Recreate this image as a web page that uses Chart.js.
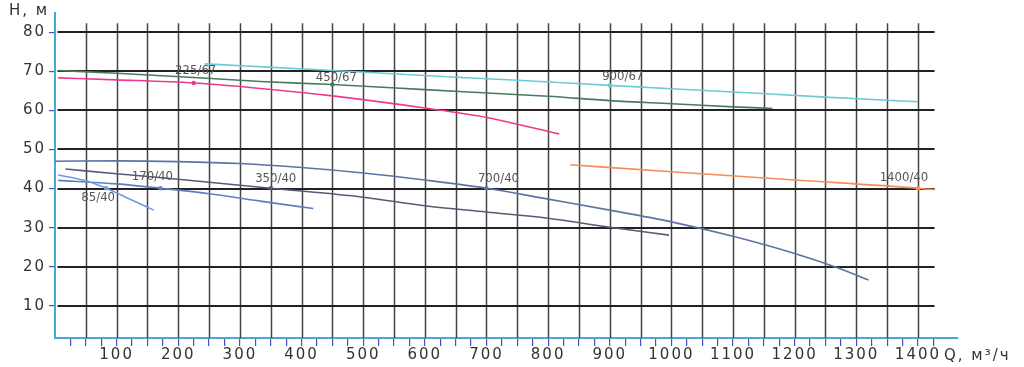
<!DOCTYPE html>
<html lang="ru">
<head>
<meta charset="UTF-8">
<title>Характеристики насосов</title>
<script src="https://cdn.jsdelivr.net/npm/chart.js"></script>
<style>
  html, body { margin: 0; padding: 0; background: #fff; }
  .wrap { position: relative; width: 1024px; height: 367px; }
</style>
</head>
<body>
<div class="wrap"><canvas id="chart"></canvas></div>
<script>
// данные кривых (Q, м³/ч -> H, м)
const curveNames = ['85/40', '170/40', '350/40', '700/40', '225/67', '450/67', '900/67', '1400/40'];

const q85_40 = [5, 50, 83, 120, 160];
const h85_40 = [43.5, 42.0, 40.1, 37.4, 34.5];
const q170_40 = [5, 100, 171, 250, 333, 419];
const h170_40 = [42.1, 41.2, 40.1, 38.7, 36.8, 34.9];
const q350_40 = [17, 100, 200, 350, 500, 600, 700, 800, 900, 996];
const h350_40 = [45.0, 43.8, 42.4, 40.1, 37.8, 35.6, 34.0, 32.4, 30.1, 28.1];
const q700_40 = [0, 100, 200, 300, 400, 500, 600, 700, 800, 900, 1000, 1100, 1200, 1265, 1320];
const h700_40 = [47.0, 47.1, 46.9, 46.4, 45.4, 44.0, 42.2, 40.1, 37.3, 34.5, 31.5, 27.8, 23.4, 20.0, 16.6];
const q225_67 = [5, 100, 225, 320, 450, 600, 700, 818];
const h225_67 = [68.3, 67.8, 67.0, 65.8, 63.7, 60.6, 58.2, 54.0];
const q450_67 = [5, 100, 225, 333, 450, 600, 800, 900, 1000, 1100, 1164];
const h450_67 = [70.2, 69.5, 68.4, 67.4, 66.6, 65.3, 63.6, 62.5, 61.7, 60.9, 60.5];
const q900_67 = [243, 317, 450, 600, 750, 900, 1100, 1250, 1400];
const h900_67 = [71.9, 71.3, 70.2, 68.9, 67.7, 66.4, 64.7, 63.4, 62.2];
const q1400_40 = [836, 1000, 1200, 1400, 1428];
const h1400_40 = [46.1, 44.3, 42.2, 40.1, 39.7];

// рабочая точка каждой кривой (где подпись)
const markQ = [83, 171, 350, 700, 225, 450, 900, 1400];

const yTicks = [10, 20, 30, 40, 50, 60, 70, 80];
const xLabelTicks = [100, 200, 300, 400, 500, 600, 700, 800, 900, 1000, 1100, 1200, 1300, 1400];

const qSeries = [q85_40, q170_40, q350_40, q700_40, q225_67, q450_67, q900_67, q1400_40];
const hSeries = [h85_40, h170_40, h350_40, h700_40, h225_67, h450_67, h900_67, h1400_40];

const colors = ['#6e9be0', '#5d7fc0', '#5a5a74', '#5e72a6', '#ee3a8c', '#4a7a5e', '#6cc9d6', '#f78a5c'];
// смещение подписи от рабочей точки, px
const labelOffset = [[-8, 9], [-8, -12], [5, -10], [12, -10], [2, -12], [4, -7], [13, -9], [-14, -11]];

const datasets = curveNames.map((name, i) => ({
    label: name,
    data: qSeries[i].map((q, j) => ({ x: q, y: hSeries[i][j] })),
    borderColor: colors[i],
    backgroundColor: colors[i],
    borderWidth: 1.6,
    cubicInterpolationMode: 'monotone',
    pointRadius: ctx => (ctx.raw && ctx.raw.x === markQ[i]) ? 2.2 : 0,
    pointBorderWidth: 0,
    fill: false
}));

const axisBlue = '#45a9d6';
const tickBlue = '#3a55c4';
const tickFont = { family: 'DejaVu Sans', size: 15 };

// сетка: вертикали через 50, горизонтали через 10
const gridPlugin = {
    id: 'grid',
    beforeDatasetsDraw(chart) {
        const { ctx, scales: { x, y }, chartArea } = chart;
        ctx.save();
        ctx.strokeStyle = '#444';
        ctx.lineWidth = 1.5;
        for (let q = 50; q <= 1400; q += 50) {
            const px = Math.round(x.getPixelForValue(q)) + 0.5;
            ctx.beginPath();
            ctx.moveTo(px, y.getPixelForValue(82.3));
            ctx.lineTo(px, chartArea.bottom);
            ctx.stroke();
        }
        ctx.strokeStyle = '#222';
        ctx.lineWidth = 2;
        yTicks.forEach(h => {
            const py = Math.round(y.getPixelForValue(h));
            ctx.beginPath();
            ctx.moveTo(x.getPixelForValue(4), py);
            ctx.lineTo(x.getPixelForValue(1427), py);
            ctx.stroke();
        });
        ctx.restore();
    }
};

// подписи кривых и осей
const labelPlugin = {
    id: 'labels',
    afterDraw(chart) {
        const { ctx, scales: { x, y } } = chart;
        ctx.save();
        ctx.letterSpacing = '0px';
        ctx.font = "13px 'Liberation Sans Narrow', 'DejaVu Sans Condensed', sans-serif";
        ctx.fillStyle = '#555';
        ctx.textAlign = 'center';
        ctx.textBaseline = 'middle';
        curveNames.forEach((name, i) => {
            const j = qSeries[i].indexOf(markQ[i]);
            const px = x.getPixelForValue(markQ[i]);
            const py = y.getPixelForValue(hSeries[i][j]);
            ctx.fillText(name, px + labelOffset[i][0], py + labelOffset[i][1]);
        });
        ctx.font = "15px 'DejaVu Sans'";
        ctx.letterSpacing = '2px';
        ctx.fillStyle = '#333';
        ctx.textAlign = 'left';
        ctx.fillText('H, м', 9, 11);
        ctx.fillText('Q, м³/ч', 944, 356);
        ctx.restore();
    }
};

new Chart(document.getElementById('chart'), {
    type: 'line',
    data: { datasets: datasets },
    options: {
        responsive: true,
        maintainAspectRatio: false,
        animation: false,
        events: [],
        layout: { padding: { top: 13, right: 66, bottom: 0, left: 0 } },
        plugins: { legend: { display: false }, tooltip: { enabled: false } },
        scales: {
            x: {
                type: 'linear',
                min: 0,
                max: 1465,
                afterFit: s => { s.height = 29; },
                afterBuildTicks: s => {
                    s.ticks = s.ticks.filter(t => t.value >= 25 && t.value <= 1450 && t.value % 25 === 0);
                },
                border: { color: axisBlue, width: 2 },
                grid: { drawOnChartArea: false, color: tickBlue, tickLength: 8, lineWidth: 1.2 },
                ticks: {
                    stepSize: 25,
                    autoSkip: false,
                    maxRotation: 0,
                    padding: 0,
                    color: '#333',
                    font: tickFont,
                    callback: v => xLabelTicks.includes(v) ? String(v) : ''
                }
            },
            y: {
                type: 'linear',
                min: 1.8,
                max: 84.9,
                afterFit: s => { s.width = 55; },
                afterBuildTicks: s => {
                    s.ticks = yTicks.map(v => ({ value: v }));
                },
                border: { color: axisBlue, width: 2 },
                grid: { drawOnChartArea: false, color: tickBlue, tickLength: 6, lineWidth: 1.2 },
                ticks: {
                    padding: 3,
                    color: '#333',
                    font: tickFont
                }
            }
        }
    },
    plugins: [gridPlugin, labelPlugin, {
        id: 'spacing',
        beforeDraw(chart) { chart.ctx.letterSpacing = '2px'; }
    }]
});
</script>
</body>
</html>
